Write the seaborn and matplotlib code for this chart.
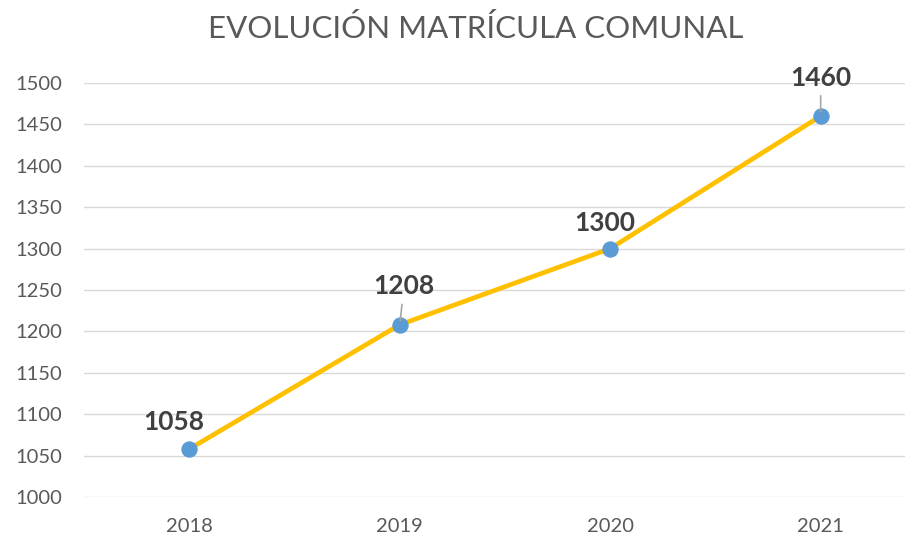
import pandas as pd
import matplotlib.pyplot as plt
import seaborn as sns

# ---------- data ----------
years = ["2018", "2019", "2020", "2021"]
matricula = [1058, 1208, 1300, 1460]
y_ticks = [1000, 1050, 1100, 1150, 1200, 1250, 1300, 1350, 1400, 1450, 1500]

df = pd.DataFrame({"anio": years, "matricula": matricula})

sns.set_style("white")
plt.rcParams["font.family"] = ["Lato", "DejaVu Sans"]

fig = plt.figure(figsize=(9.14, 5.42), dpi=100)
ax = fig.add_axes([0.092, 0.083, 0.898, 0.764])

sns.lineplot(data=df, x="anio", y="matricula", ax=ax, color="#FFC000",
             linewidth=3.4, marker="o", markersize=11,
             markerfacecolor="#5B9BD5", markeredgecolor="#5B9BD5", zorder=3)

ax.set_ylim(1000, 1500)
ax.set_yticks(y_ticks)
ax.set_xlim(-0.5, 3.4)
ax.grid(axis="y", color="#D9D9D9", linewidth=1)
ax.grid(axis="x", visible=False)
for s in ax.spines.values():
    s.set_visible(False)
ax.tick_params(axis="both", length=0, labelsize=14.5, colors="#595959")
ax.tick_params(axis="y", pad=16)
ax.tick_params(axis="x", pad=15)
ax.set_xlabel("")
ax.set_ylabel("")

# data labels (offset in points, leader line where label sits away from point)
offsets = [(-11, 11), (3, 19), (-4, 10), (0, 19)]
leaders = [False, True, False, True]
for i, (v, off, lead) in enumerate(zip(matricula, offsets, leaders)):
    props = dict(arrowstyle="-", color="#A6A6A6", lw=1.2, shrinkA=2, shrinkB=3) if lead else None
    ax.annotate(str(v), xy=(i, v), xytext=off, textcoords="offset points",
                ha="center", va="bottom", fontsize=19, fontweight="bold",
                color="#404040", arrowprops=props)

fig.text(0.52, 0.948, "EVOLUCIÓN MATRÍCULA COMUNAL", ha="center", va="center",
         fontsize=22.5, color="#595959")

plt.savefig("out.png", dpi=100)
plt.close()
